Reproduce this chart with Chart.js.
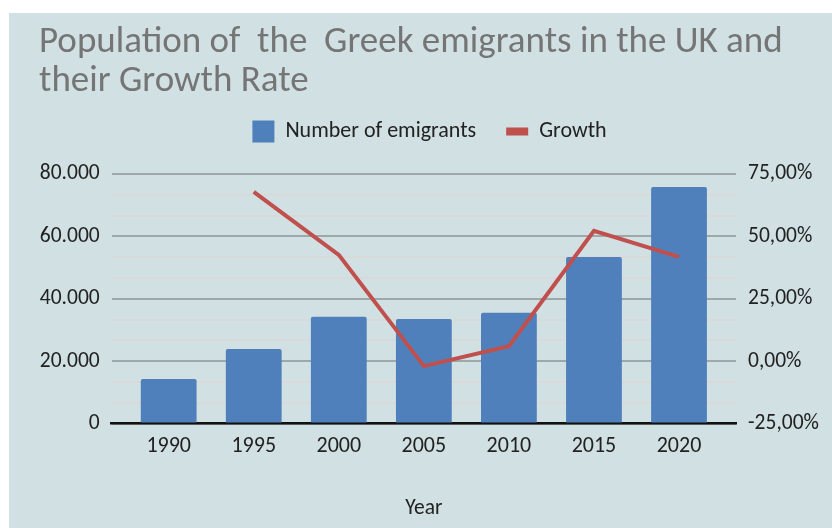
<!DOCTYPE html>
<html lang="en">
<head>
    <meta charset="UTF-8">
    <script src="https://cdn.jsdelivr.net/npm/chart.js"></script>
    <title>Greek emigrants in the UK</title>
    <style>
        body { margin: 0; background: #ffffff; }
        #box {
            position: absolute; left: 9px; top: 13px;
            width: 823px; height: 515px;
            background: #d1e0e3;
        }
    </style>
</head>
<body>
    <div id="box"><canvas id="myChart"></canvas></div>
</body>

<script>
    const years = [1990, 1995, 2000, 2005, 2010, 2015, 2020];
    const emigrants = [14300, 23900, 34200, 33500, 35500, 53400, 75800];
    const growthYears = [1995, 2000, 2005, 2010, 2015, 2020];
    const growth = [67.8, 42.6, -2.0, 6.0, 52.2, 41.8];

    const leftTicks = [0, 20000, 40000, 60000, 80000];
    const rightTicks = [-25, 0, 25, 50, 75];

    const FONT = "Carlito, Lato, sans-serif";
    const BLUE = '#4f80bc';
    const RED = '#c0504d';
    const TXT = '#222222';

    function thousands(v) {
        return String(Math.round(v)).replace(/\B(?=(\d{3})+(?!\d))/g, '.');
    }

    // leaves some room between the legend row and the plot
    const legendGap = {
        id: 'legendGap',
        beforeInit(chart) {
            const fit = chart.legend.fit;
            chart.legend.fit = function() {
                fit.bind(chart.legend)();
                this.height += 21.5;
            };
        }
    };

    const ctx = document.getElementById('myChart');

    new Chart(ctx, {
        type: 'bar',
        data: {
            datasets: [{
                type: 'bar',
                label: 'Number of emigrants',
                data: years.map((y, i) => ({ x: y, y: emigrants[i] })),
                backgroundColor: BLUE,
                borderRadius: 2,
                borderSkipped: 'bottom',
                categoryPercentage: 0.8,
                barPercentage: 0.82,
                pointStyle: 'rect',
                yAxisID: 'y',
                order: 1
            }, {
                type: 'line',
                label: 'Growth',
                data: growthYears.map((y, i) => ({ x: y, y: growth[i] })),
                borderColor: RED,
                backgroundColor: RED,
                borderWidth: 4,
                pointRadius: 0,
                tension: 0,
                pointStyle: 'line',
                yAxisID: 'y1',
                order: 0
            }]
        },
        plugins: [legendGap],
        options: {
            responsive: true,
            maintainAspectRatio: false,
            animation: false,
            layout: { padding: { left: 30, right: 12, top: 6, bottom: 4 } },
            plugins: {
                title: {
                    display: true,
                    text: ['Population of  the  Greek emigrants in the UK and', 'their Growth Rate'],
                    align: 'start',
                    color: '#757575',
                    font: { family: FONT, size: 37, weight: 'normal', lineHeight: 1.046 },
                    padding: { top: 4.5, bottom: -10.4 }
                },
                legend: {
                    display: true,
                    labels: {
                        color: TXT,
                        font: { family: FONT, size: 22 },
                        usePointStyle: true,
                        pointStyleWidth: 22,
                        boxHeight: 23,
                        padding: 30,
                        sort: (a, b) => a.datasetIndex - b.datasetIndex,
                        generateLabels: function(chart) {
                            const items = Chart.defaults.plugins.legend.labels.generateLabels(chart);
                            items.forEach(it => {
                                if (it.pointStyle === 'line') {
                                    it.lineWidth = 8;
                                    it.strokeStyle = RED;
                                } else {
                                    it.lineWidth = 0;
                                }
                            });
                            return items;
                        }
                    }
                },
                tooltip: { enabled: false }
            },
            scales: {
                x: {
                    type: 'linear',
                    offset: false,
                    min: 1986.65,
                    max: 2023.35,
                    afterBuildTicks: function(scale) {
                        scale.ticks = years.map(v => ({ value: v }));
                    },
                    ticks: {
                        color: TXT,
                        font: { family: FONT, size: 22 },
                        padding: 10,
                        callback: function(value) { return String(value); }
                    },
                    grid: { display: false, drawTicks: false },
                    border: { color: '#111111', width: 2.5 },
                    title: {
                        display: true,
                        text: 'Year',
                        color: TXT,
                        font: { family: FONT, size: 21.5 },
                        padding: { top: 26.3, bottom: 2 }
                    }
                },
                y: {
                    position: 'left',
                    min: 0,
                    max: 80000,
                    ticks: {
                        stepSize: 20000 / 3,
                        color: TXT,
                        font: { family: FONT, size: 21.5 },
                        padding: 12,
                        autoSkip: false,
                        callback: function(value, index) {
                            return index % 3 === 0 ? thousands(leftTicks[index / 3]) : '';
                        }
                    },
                    grid: {
                        drawTicks: false,
                        lineWidth: 2,
                        color: c => (c.index % 3 === 0 ? '#9ea8a8' : '#d9d9d9')
                    },
                    border: { display: false },
                    afterFit: function(scale) { scale.width = 72.7; }
                },
                y1: {
                    position: 'right',
                    min: -25,
                    max: 75,
                    ticks: {
                        stepSize: 25,
                        color: TXT,
                        font: { family: FONT, size: 21.5 },
                        padding: 12,
                        callback: function(value, index) {
                            return rightTicks[index].toFixed(2).replace('.', ',') + '%';
                        }
                    },
                    grid: { drawOnChartArea: false, drawTicks: false },
                    border: { display: false },
                    afterFit: function(scale) { scale.width = 84; }
                }
            }
        }
    });
</script>
</html>
